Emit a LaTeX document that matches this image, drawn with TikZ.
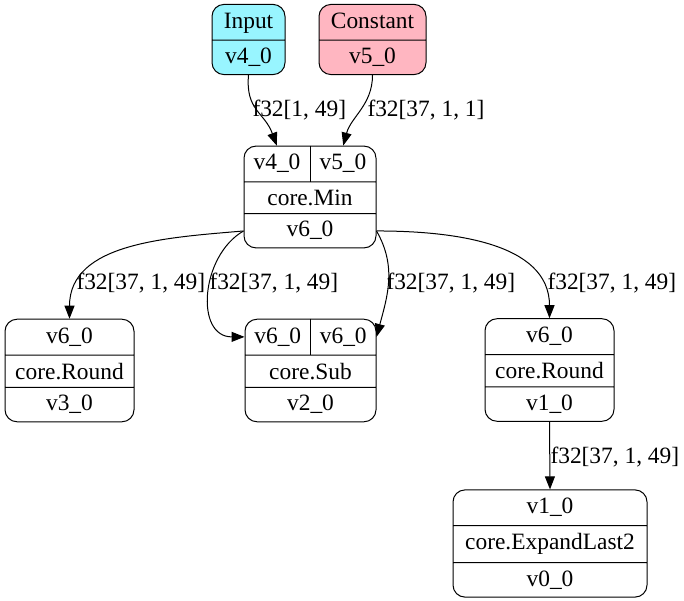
\documentclass[tikz,border=0pt]{standalone}
\usepackage{fontspec}
\setmainfont{Liberation Serif}
\usetikzlibrary{shapes.multipart,calc,arrows.meta}
\definecolor{inputfill}{HTML}{98F5FF}
\definecolor{constfill}{HTML}{FFB6C1}

\begin{document}
\begin{tikzpicture}[x=1pt,y=-1pt,font=\fontsize{23.4}{28}\selectfont,
        line width=1pt,
        opnode/.style={shape=rectangle split, rectangle split parts=3,
        draw, rounded corners=12pt, align=center, inner xsep=0pt,
        inner ysep=7.4pt, text height=16pt, text depth=4pt, text width=#1},
        opnode/.default=129pt,
        flow/.style={-{Triangle[length=13pt,width=10pt]}},
        shapelbl/.style={anchor=west, inner sep=0pt}]
      \useasboundingbox (0,0) rectangle (684,601);
      \def\rowmid#1#2#3{\coordinate (#1) at ($(#2)!0.5!(#3)$);}
      \node[opnode=73pt,rectangle split parts=2,fill=inputfill] (Input)
        at (248.5,39.5) {Input\nodepart{two}v4\_0};
      \node[opnode=107pt,rectangle split parts=2,fill=constfill] (Const)
        at (372.5,39.5) {Constant\nodepart{two}v5\_0};
      \node[opnode=132pt] (Min) at (310,197)
        {\makebox[66pt]{v4\_0}\makebox[66pt]{v5\_0}\nodepart{two}core.Min\nodepart{three}v6\_0};
      \draw (Min.north) -- (Min.text split);
      \node[opnode] (RoundA) at (69.5,370.5)
        {v6\_0\nodepart{two}core.Round\nodepart{three}v3\_0};
      \node[opnode=131pt] (Sub) at (310.5,370.5)
        {\makebox[65.5pt]{v6\_0}\makebox[65.5pt]{v6\_0}\nodepart{two}core.Sub\nodepart{three}v2\_0};
      \draw (Sub.north) -- (Sub.text split);
      \node[opnode] (RoundB) at (549.5,370)
        {v6\_0\nodepart{two}core.Round\nodepart{three}v1\_0};
      \node[opnode=194pt] (Expand) at (550,543.5)
        {v1\_0\nodepart{two}core.ExpandLast2\nodepart{three}v0\_0};
      \rowmid{MinA}{Min.north west}{Min.north}
      \rowmid{MinB}{Min.north}{Min.north east}
      \rowmid{MinW}{Min.two split west}{Min.south west}
      \rowmid{MinE}{Min.two split east}{Min.south east}
      \rowmid{SubA}{Sub.north west}{Sub.text split west}
      \rowmid{SubB}{Sub.north east}{Sub.text split east}
      \draw[flow] (Input.south) to[out=-95,in=110,looseness=1.2] (MinA);
      \draw[flow] (Const.south) to[out=-90,in=75] (MinB);
      \draw[flow] (MinW) to[out=185,in=90] (RoundA.north);
      \draw[flow] (MinW) to[out=210,in=180,looseness=1.2] (SubA);
      \draw[flow] (MinE) to[out=-60,in=75] (SubB);
      \draw[flow] (MinE) to[out=0,in=90] (RoundB.north);
      \draw[flow] (RoundB.south) -- (Expand.north);
      \node[shapelbl] (l1) at (252,110) {f32[1, 49]};
      \node[shapelbl] (l2) at (367,110) {f32[37, 1, 1]};
      \node[shapelbl] (l3) at (76,283) {f32[37, 1, 49]};
      \node[shapelbl] (l4) at (209,283) {f32[37, 1, 49]};
      \node[shapelbl] (l5) at (386,283) {f32[37, 1, 49]};
      \node[shapelbl] (l6) at (547,283) {f32[37, 1, 49]};
      \node[shapelbl] (l7) at (550,457) {f32[37, 1, 49]};
    \end{tikzpicture}
\end{document}
